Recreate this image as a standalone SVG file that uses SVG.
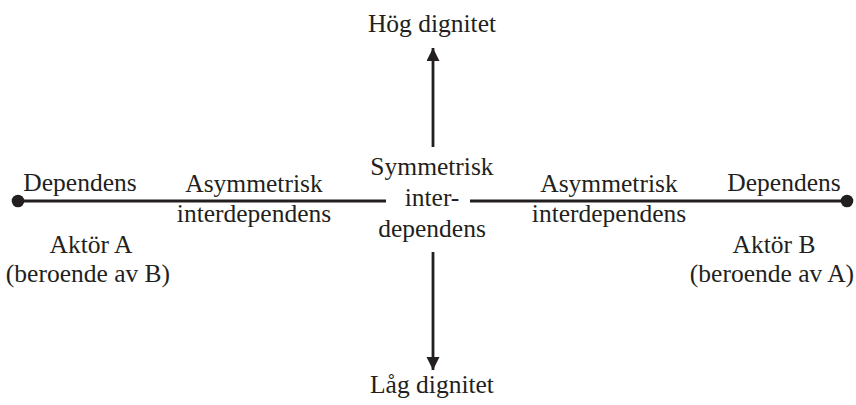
<svg xmlns="http://www.w3.org/2000/svg" width="856" height="405" viewBox="0 0 856 405">
<defs>
<style>
text{font-family:'Liberation Serif','DejaVu Serif','Times New Roman',serif;font-size:25.5px;fill:#231f20;text-anchor:middle}
.ln{stroke:#231f20;stroke-width:2.8;fill:none}
.dot{fill:#231f20}
</style>
<marker id="ah" viewBox="0 0 13 15" refX="13" refY="6.5" markerWidth="13" markerHeight="15" markerUnits="userSpaceOnUse" orient="auto">
<path d="M0,0 L13,6.5 L0,13 Z" fill="#231f20"/>
</marker>
</defs>
<rect width="856" height="405" fill="#fff"/>
<g id="connectors">
<line class="ln" x1="18" y1="201" x2="386" y2="201"/>
<line class="ln" x1="470" y1="201" x2="847" y2="201"/>
<line class="ln" x1="433" y1="147" x2="433" y2="48" marker-end="url(#ah)"/>
<line class="ln" x1="433" y1="252" x2="433" y2="370" marker-end="url(#ah)"/>
</g>
<g id="dotA"><circle class="dot" cx="18" cy="201" r="6.3"/></g>
<g id="dotB"><circle class="dot" cx="847" cy="201" r="6.3"/></g>
<g id="hog"><text x="432" y="32">Hög dignitet</text></g>
<g id="lag"><text x="432" y="393">Låg dignitet</text></g>
<g id="center"><text x="432" y="175">Symmetrisk</text><text x="432" y="206">inter-</text><text x="432" y="237">dependens</text></g>
<g id="depA"><text x="80" y="191">Dependens</text></g>
<g id="asymA"><text x="254" y="192">Asymmetrisk</text><text x="254" y="222">interdependens</text></g>
<g id="aktorA"><text x="91" y="253">Aktör A</text><text x="88" y="282">(beroende av B)</text></g>
<g id="asymB"><text x="609" y="192">Asymmetrisk</text><text x="609" y="222">interdependens</text></g>
<g id="depB"><text x="784" y="191">Dependens</text></g>
<g id="aktorB"><text x="774" y="253">Aktör B</text><text x="772" y="282">(beroende av A)</text></g>
</svg>
